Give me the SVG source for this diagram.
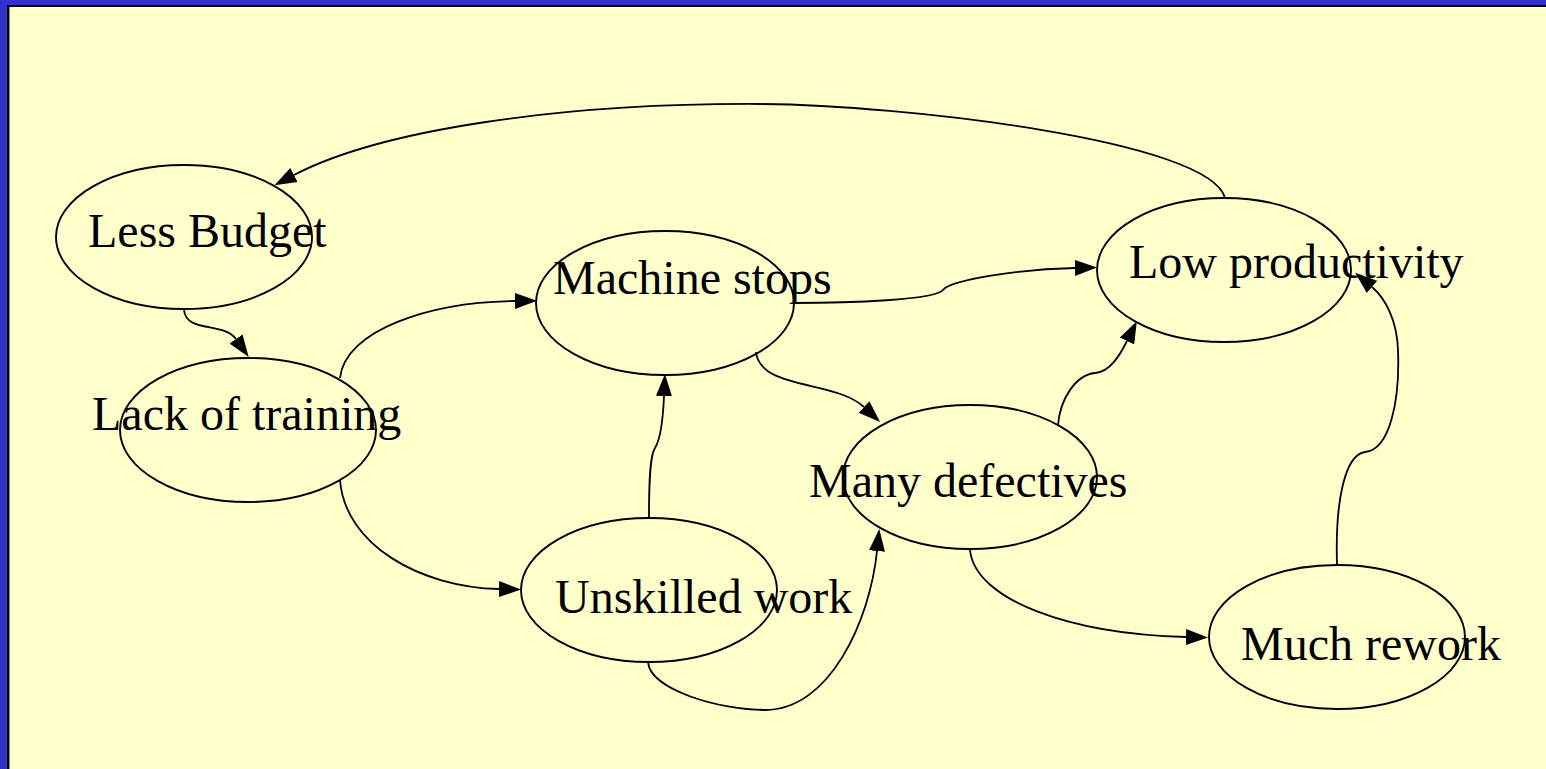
<svg xmlns="http://www.w3.org/2000/svg" width="1546" height="769" viewBox="0 0 1546 769">
  <style>
    .node ellipse { fill: none; stroke: #000; stroke-width: 1.9; }
    .node text { font-family: "Liberation Serif", "Times New Roman", serif; font-size: 48px; fill: #000; }
    #edges path { fill: none; stroke: #000; stroke-width: 1.8; marker-end: url(#arrow); }
  </style>
  <defs>
    <marker id="arrow" markerUnits="userSpaceOnUse" markerWidth="23" markerHeight="18" viewBox="0 0 23 18" refX="0" refY="9" orient="auto">
      <path d="M0,1 L22,9 L0,17 Z" fill="#000"/>
    </marker>
  </defs>

  <!-- page background and frame -->
  <rect x="0" y="0" width="1546" height="769" fill="#FFFFCC"/>
  <rect x="0" y="0" width="1546" height="5" fill="#3333CC"/>
  <rect x="0" y="0" width="7" height="769" fill="#3333CC"/>
  <rect x="7" y="5" width="1539" height="2" fill="#000"/>
  <rect x="7" y="5" width="2" height="764" fill="#000"/>
  <rect x="9" y="7" width="1" height="762" fill="#8a8a70"/>

  <!-- connectors -->
  <g id="edges">
    <path d="M1225,198 C1210,140 900,105 760,104 C560,103 380,130 294,175"/>
    <path d="M184,310 C186,333 224,322 236,339"/>
    <path d="M340,378 C345,330 430,302 515,301"/>
    <path d="M340,480 C345,545 420,587 499,589"/>
    <path d="M793,303 C850,303 935,300 943,290 C950,280 1020,269 1075,268"/>
    <path d="M756,352 C760,390 835,380 864,407"/>
    <path d="M649,518 C649,480 650,455 655,448 C660,440 663,420 664,396"/>
    <path d="M648,662 C650,690 720,710 765,710 C830,710 870,620 877,551"/>
    <path d="M1058,425 C1060,400 1075,375 1095,373 C1110,372 1120,355 1127,341"/>
    <path d="M970,550 C975,600 1070,634 1186,637"/>
    <path d="M1337,565 C1335,500 1345,455 1365,452 C1390,450 1400,400 1398,350 C1397,320 1385,298 1372,287"/>
  </g>

  <!-- nodes -->
  <g id="less-budget" class="node">
    <ellipse cx="184" cy="237" rx="128" ry="72"/>
    <text x="88" y="247">Less Budget</text>
  </g>
  <g id="lack-of-training" class="node">
    <ellipse cx="248" cy="430" rx="128" ry="72"/>
    <text x="92" y="430">Lack of training</text>
  </g>
  <g id="machine-stops" class="node">
    <ellipse cx="665" cy="303" rx="129" ry="72"/>
    <text x="553" y="294">Machine stops</text>
  </g>
  <g id="unskilled-work" class="node">
    <ellipse cx="649" cy="590" rx="128" ry="72"/>
    <text x="555" y="613">Unskilled work</text>
  </g>
  <g id="many-defectives" class="node">
    <ellipse cx="970" cy="477" rx="127" ry="72"/>
    <text x="809" y="497">Many defectives</text>
  </g>
  <g id="low-productivity" class="node">
    <ellipse cx="1224" cy="270" rx="127" ry="72"/>
    <text x="1129" y="278">Low productivity</text>
  </g>
  <g id="much-rework" class="node">
    <ellipse cx="1337" cy="637" rx="128" ry="72"/>
    <text x="1241" y="660">Much rework</text>
  </g>
</svg>
